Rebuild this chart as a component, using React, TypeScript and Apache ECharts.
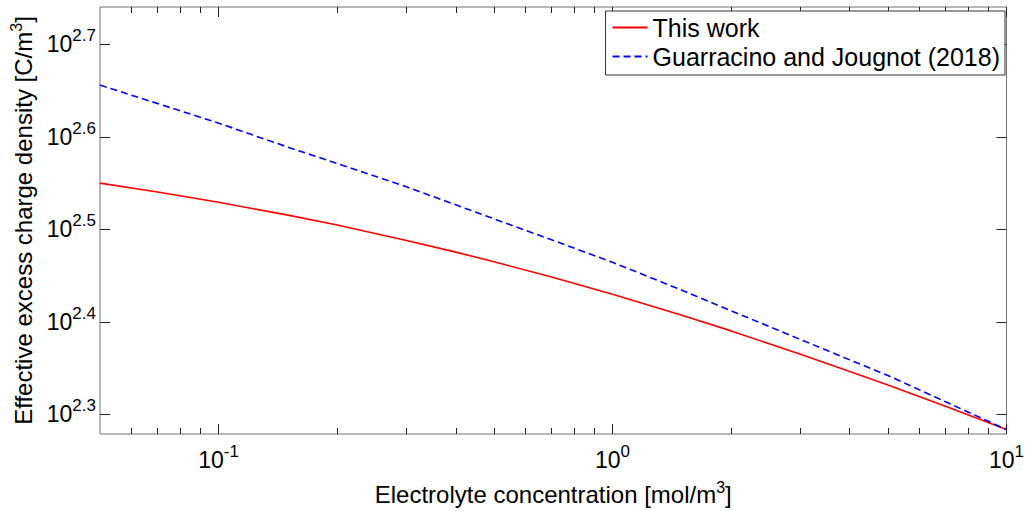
import React, { useEffect, useRef } from "react";
import * as echarts from "echarts";

// Electrolyte concentration [mol/m^3]
const concentration = [0.05, 0.07, 0.1, 0.15, 0.2, 0.3, 0.4, 0.5, 0.7, 1, 1.5, 2, 3, 4, 5, 7, 10];
// Effective excess charge density [C/m^3]
const thisWork = [354.8, 347.1, 338.3, 327.6, 319.6, 307.6, 298.8, 291.7, 280.8, 269.0, 255.4, 245.6, 231.7, 222.0, 214.6, 203.6, 192.1];
const guarracinoJougnot = [452.9, 432.5, 411.9, 388.0, 372.5, 351.5, 336.1, 324.6, 308.1, 291.3, 271.8, 258.2, 240.4, 228.5, 219.8, 205.9, 192.1];

const seriesNames = ["This work", "Guarracino and Jougnot (2018)"];

// Axis ranges and tick positions
const xRange = [0.05, 10];
const yRange = [190, 550];
const xMajorTicks = [0.1, 1, 10];
const xMinorTicks = [
  0.06, 0.07, 0.08, 0.09,
  0.2, 0.3, 0.4, 0.5, 0.6, 0.7, 0.8, 0.9,
  2, 3, 4, 5, 6, 7, 8, 9,
];
const yTickExponents = [2.3, 2.4, 2.5, 2.6, 2.7];

const FONT = "'Liberation Sans', Arial, Helvetica, sans-serif";

export default function App() {
  const ref = useRef<HTMLDivElement>(null);

  useEffect(() => {
    if (!ref.current) return;
    const chart = echarts.init(ref.current, undefined, { renderer: "svg" });

    const yTicks = yTickExponents.map((p) => Math.pow(10, p));
    const tickColor = "#222";
    const powerRich = {
      b: { fontSize: 23, lineHeight: 34, color: "#000", fontFamily: FONT },
      s: { fontSize: 17, lineHeight: 10, verticalAlign: "top", color: "#000", fontFamily: FONT },
    };
    const nameRich = {
      t: { fontSize: 24, lineHeight: 30, color: "#000", fontFamily: FONT },
      s: { fontSize: 16, lineHeight: 12, verticalAlign: "top", color: "#000", fontFamily: FONT },
    };

    const baseX = {
      type: "log",
      logBase: 10,
      min: xRange[0],
      max: xRange[1],
      axisLine: { show: false },
      splitLine: { show: false },
      minorTick: { show: false },
    };
    const baseY = {
      type: "log",
      logBase: 10,
      min: yRange[0],
      max: yRange[1],
      axisLine: { show: false },
      splitLine: { show: false },
      minorTick: { show: false },
    };

    const option = {
      animation: false,
      backgroundColor: "#fff",
      grid: {
        left: 97,
        right: 15,
        top: 7,
        bottom: 77,
        show: true,
        borderColor: "#707070",
        borderWidth: 1,
        backgroundColor: "#fff",
      },
      legend: {
        data: seriesNames,
        orient: "vertical",
        right: 22,
        top: 11,
        itemWidth: 35,
        itemHeight: 14,
        itemGap: 4,
        padding: [4, 5, 6, 6],
        borderColor: "#333",
        borderWidth: 1,
        backgroundColor: "#fff",
        itemStyle: { opacity: 0 },
        textStyle: { fontSize: 25, color: "#000", fontFamily: FONT },
      },
      xAxis: [
        {
          ...baseX,
          position: "bottom",
          axisTick: { show: true, inside: true, length: 10, customValues: xMajorTicks, lineStyle: { color: tickColor } },
          axisLabel: {
            show: true,
            customValues: xMajorTicks,
            margin: 9,
            formatter: (v: number) => `{b|10}{s|${Math.round(Math.log10(v))}}`,
            rich: powerRich,
          },
          name: "{t|Electrolyte concentration [mol/m}{s|3}{t|]}",
          nameLocation: "middle",
          nameGap: 45,
          nameTextStyle: { rich: nameRich },
        },
        {
          ...baseX,
          position: "bottom",
          axisTick: { show: true, inside: true, length: 6, customValues: xMinorTicks, lineStyle: { color: tickColor } },
          axisLabel: { show: false },
        },
        {
          ...baseX,
          position: "top",
          axisTick: { show: true, inside: true, length: 10, customValues: xMajorTicks, lineStyle: { color: tickColor } },
          axisLabel: { show: false },
        },
        {
          ...baseX,
          position: "top",
          axisTick: { show: true, inside: true, length: 6, customValues: xMinorTicks, lineStyle: { color: tickColor } },
          axisLabel: { show: false },
        },
      ],
      yAxis: [
        {
          ...baseY,
          position: "left",
          axisTick: { show: true, inside: true, length: 10, customValues: yTicks, lineStyle: { color: tickColor } },
          axisLabel: {
            show: true,
            customValues: yTicks,
            margin: 4,
            formatter: (v: number) => `{b|10}{s|${Math.log10(v).toFixed(1)}}`,
            rich: powerRich,
          },
          name: "{t|Effective excess charge density [C/m}{s|3}{t|]}",
          nameLocation: "middle",
          nameGap: 62,
          nameTextStyle: { rich: nameRich },
        },
        {
          ...baseY,
          position: "right",
          axisTick: { show: true, inside: true, length: 10, customValues: yTicks, lineStyle: { color: tickColor } },
          axisLabel: { show: false },
        },
      ],
      series: [
        {
          name: seriesNames[0],
          type: "line",
          xAxisIndex: 0,
          yAxisIndex: 0,
          data: concentration.map((c, i) => [c, thisWork[i]]),
          symbol: "none",
          showSymbol: false,
          lineStyle: { color: "#ff0000", width: 1.6 },
          itemStyle: { color: "#ff0000" },
        },
        {
          name: seriesNames[1],
          type: "line",
          xAxisIndex: 0,
          yAxisIndex: 0,
          data: concentration.map((c, i) => [c, guarracinoJougnot[i]]),
          symbol: "none",
          showSymbol: false,
          lineStyle: { color: "#0000ff", width: 1.6, type: [7, 4] },
          itemStyle: { color: "#0000ff" },
        },
      ],
    };

    chart.setOption(option as any);
    return () => chart.dispose();
  }, []);

  return (
    <div
      ref={ref}
      style={{ position: "fixed", left: 0, top: 0, width: 1027, height: 511, background: "#fff" }}
    />
  );
}
